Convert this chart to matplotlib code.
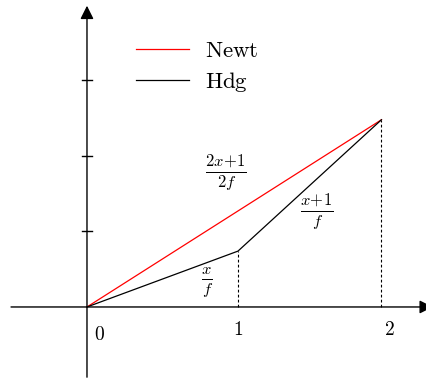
import numpy as np
import matplotlib
matplotlib.use("Agg")
import matplotlib.pyplot as plt

plt.rcParams.update({"mathtext.fontset": "cm", "font.family": "serif"})

# =============================================================================
# DATA
# =============================================================================
newt_x = [0, 1.95]
newt_y = [0, 2.48]
hdg_x = [0, 1, 1.95]
hdg_y = [0, 0.74, 2.48]
ytick_vals = [1, 2, 3]
xtick_vals = [1, 2]
xtick_labels = ["1", "2"]

# =============================================================================
# FIGURE
# =============================================================================
size = 14
fig = plt.figure(figsize=(4.26, 3.79), dpi=100)
ax = fig.add_axes([0, 0, 1, 1])
ax.set_xlim(-0.576, 2.245)
ax.set_ylim(-0.954, 4.066)
ax.axis("off")

# axes with arrows
arrow = dict(arrowstyle="-|>", color="k", lw=1.0, mutation_scale=20,
             shrinkA=0, shrinkB=0)
ax.annotate("", xy=(2.29, 0), xytext=(-0.503, 0), arrowprops=arrow,
            annotation_clip=False)
ax.annotate("", xy=(0, 3.99), xytext=(0, -0.93), arrowprops=arrow,
            annotation_clip=False)

# y ticks (no labels)
for yv in ytick_vals:
    ax.plot([-0.036, 0.036], [yv, yv], color="k", lw=1.0)

# curves
ax.plot(newt_x, newt_y, color="red", lw=0.9, label=r"$\mathrm{Newt}$")
ax.plot(hdg_x, hdg_y, color="k", lw=0.9, label=r"$\mathrm{Hdg}$")

# dashed drop lines
ax.plot([hdg_x[1], hdg_x[1]], [0, hdg_y[1]], color="k", lw=0.8,
        linestyle=(0, (2.5, 2)))
ax.plot([hdg_x[2], hdg_x[2]], [0, hdg_y[2]], color="k", lw=0.8,
        linestyle=(0, (2.5, 2)))

# x labels
ax.text(0.086, -0.37, r"$0$", size=size, ha="center", va="center")
for xv, lab in zip(xtick_vals, xtick_labels):
    ax.text(xv, -0.305, "$" + lab + "$", size=size, ha="center", va="center")

# fraction labels
ax.text(0.92, 1.79, r"$\frac{2x\!+\!1}{2f}$", size=size + 3, ha="center", va="center")
ax.text(1.52, 1.27, r"$\frac{x\!+\!1}{f}$", size=size + 3, ha="center", va="center")
ax.text(0.795, 0.32, r"$\frac{x}{f}$", size=size + 3, ha="center", va="center")

ax.legend(loc="upper left", bbox_to_anchor=(0.319, 0.894), frameon=False,
          prop={"size": 16.5}, handlelength=2.3, handletextpad=0.7,
          labelspacing=0.33, borderaxespad=0, borderpad=0)

plt.savefig("out.png", dpi=100)
plt.close()
